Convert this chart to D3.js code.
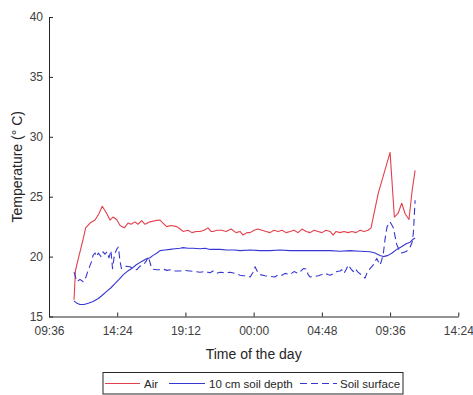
<!DOCTYPE html>
<html>
<head>
<meta charset="utf-8">
<script src="https://cdn.jsdelivr.net/npm/d3@7"></script>
<style>
  html, body { margin: 0; padding: 0; background: #fff; }
  svg { display: block; font-family: "Liberation Sans", Arial, sans-serif; }
</style>
</head>
<body>
<svg id="chart" width="473" height="395"></svg>
<script>
// Time is given in decimal hours from midnight of the first day (values above 24 fall on the next day).
const xTickHours = [9.6, 14.4, 19.2, 24, 28.8, 33.6, 38.4];
const yTicks = [15, 20, 25, 30, 35, 40];

const seriesNames = ["Air", "10 cm soil depth", "Soil surface"];

// Air temperature
const airHours = [11.36, 11.46, 11.57, 11.78, 11.99, 12.18, 12.49, 12.84, 13.12, 13.35, 13.66, 13.89, 14.10, 14.36, 14.60, 14.90, 15.16, 15.37, 15.65, 15.86, 16.12, 16.36, 16.71, 17.06, 17.41, 17.62, 17.88, 18.19, 18.59, 18.82, 19.03, 19.38, 19.66, 19.95, 20.23, 20.51, 20.79, 21.00, 21.14, 21.42, 21.75, 22.06, 22.41, 22.76, 23.04, 23.25, 23.53, 23.75, 24.03, 24.31, 24.59, 24.87, 25.15, 25.43, 25.72, 26.00, 26.28, 26.56, 26.84, 27.12, 27.40, 27.69, 27.97, 28.25, 28.53, 28.81, 29.09, 29.38, 29.59, 29.80, 30.08, 30.36, 30.64, 30.92, 31.20, 31.49, 31.77, 32.05, 32.26, 32.77, 33.60, 33.90, 34.16, 34.42, 34.65, 34.93, 35.15, 35.36];
const airTemps = [16.4, 18.8, 19.4, 20.4, 21.4, 22.4, 22.8, 23.05, 23.6, 24.2, 23.6, 23.05, 23.3, 23.1, 22.6, 22.4, 22.8, 22.7, 22.9, 22.7, 23.0, 22.7, 22.9, 23.0, 23.05, 22.8, 22.5, 22.6, 22.5, 22.3, 22.1, 22.2, 22.0, 22.1, 22.1, 22.2, 22.4, 22.1, 22.1, 22.2, 22.2, 22.1, 22.3, 22.0, 22.1, 21.8, 22.0, 22.0, 22.2, 22.3, 22.2, 22.1, 22.0, 22.2, 22.1, 22.2, 22.0, 22.1, 22.2, 22.0, 22.3, 22.1, 22.0, 22.2, 22.1, 22.0, 22.2, 22.1, 21.8, 22.1, 22.0, 22.1, 22.0, 22.1, 22.0, 22.2, 22.1, 22.2, 22.4, 25.3, 28.7, 23.3, 23.6, 24.45, 23.6, 23.1, 25.5, 27.2];

// Soil temperature at 10 cm depth
const soilDepthHours = [11.36, 11.57, 11.78, 12.06, 12.37, 12.70, 13.07, 13.33, 13.66, 13.96, 14.24, 14.53, 14.83, 15.09, 15.42, 15.72, 16.12, 16.43, 16.71, 16.92, 17.20, 17.41, 17.76, 18.12, 18.47, 18.82, 19.03, 19.38, 19.73, 20.23, 20.58, 20.93, 21.28, 21.63, 22.11, 22.69, 23.04, 23.75, 24.45, 25.15, 25.86, 26.56, 27.26, 27.97, 28.67, 29.38, 30.08, 30.78, 31.49, 32.19, 32.54, 32.89, 33.13, 33.46, 33.74, 34.07, 34.37, 34.77, 35.01, 35.22, 35.36];
const soilDepthTemps = [16.3, 16.1, 16.0, 16.0, 16.1, 16.25, 16.5, 16.75, 17.1, 17.4, 17.75, 18.1, 18.5, 18.75, 19.0, 19.3, 19.6, 19.8, 19.9, 20.1, 20.3, 20.5, 20.55, 20.6, 20.65, 20.7, 20.75, 20.7, 20.7, 20.65, 20.7, 20.6, 20.6, 20.6, 20.55, 20.55, 20.5, 20.55, 20.5, 20.5, 20.55, 20.5, 20.5, 20.5, 20.5, 20.5, 20.45, 20.5, 20.45, 20.4, 20.3, 20.1, 20.0, 20.1, 20.3, 20.6, 20.8, 21.1, 21.2, 21.45, 21.55];

// Soil surface temperature
const soilSurfaceHours = [11.36, 11.46, 11.57, 11.78, 12.01, 12.20, 12.34, 12.60, 12.70, 12.84, 12.96, 13.07, 13.26, 13.40, 13.54, 13.68, 13.82, 13.96, 14.07, 14.21, 14.36, 14.48, 14.60, 14.70, 14.83, 15.02, 15.30, 15.51, 15.77, 16.00, 16.24, 16.43, 16.59, 16.71, 16.83, 16.94, 17.20, 17.41, 17.64, 17.90, 18.12, 18.47, 18.82, 19.17, 19.52, 19.87, 20.23, 20.58, 20.93, 21.14, 21.40, 21.63, 21.99, 22.34, 22.69, 23.04, 23.25, 23.51, 23.75, 23.96, 24.10, 24.24, 24.45, 24.80, 25.15, 25.50, 25.74, 26.00, 26.21, 26.56, 26.84, 27.14, 27.33, 27.50, 27.74, 27.83, 27.97, 28.25, 28.55, 28.81, 29.02, 29.23, 29.38, 29.59, 29.85, 30.08, 30.20, 30.36, 30.50, 30.66, 30.83, 31.01, 31.13, 31.34, 31.56, 31.84, 31.96, 32.19, 32.42, 32.66, 32.89, 33.01, 33.13, 33.25, 33.39, 33.60, 33.83, 34.07, 34.30, 34.44, 34.77, 35.01, 35.15, 35.24, 35.36];
const soilSurfaceTemps = [18.7, 18.3, 17.9, 18.1, 17.9, 18.3, 18.8, 19.6, 20.1, 20.3, 20.0, 20.3, 20.0, 20.4, 20.2, 20.4, 19.9, 20.5, 19.0, 20.2, 20.6, 20.8, 19.6, 19.0, 19.1, 19.2, 19.15, 19.0, 18.9, 19.2, 19.3, 19.6, 20.0, 19.5, 19.0, 18.95, 18.9, 18.9, 18.95, 18.85, 18.9, 18.8, 18.8, 18.85, 18.8, 18.75, 18.7, 18.75, 18.65, 18.8, 18.6, 18.7, 18.65, 18.7, 18.6, 18.45, 18.4, 18.4, 18.3, 18.7, 19.15, 18.8, 18.5, 18.4, 18.35, 18.3, 18.5, 18.45, 18.6, 18.5, 18.75, 18.6, 18.8, 19.0, 18.95, 18.5, 18.3, 18.35, 18.4, 18.5, 18.6, 18.5, 18.45, 18.55, 18.75, 18.8, 18.9, 18.6, 18.9, 19.3, 19.0, 18.75, 19.0, 18.7, 18.5, 18.2, 18.6, 19.0, 19.3, 19.85, 19.3, 19.7, 20.3, 21.5, 22.5, 22.9, 22.4, 21.0, 20.4, 20.3, 20.45, 20.8, 21.2, 22.0, 24.7];

const seriesColors = ["#e2404c", "#3636d2", "#3636d2"];
const seriesDash = [null, null, "7,4"];

const series = [
  { name: seriesNames[0], hours: airHours, temps: airTemps },
  { name: seriesNames[1], hours: soilDepthHours, temps: soilDepthTemps },
  { name: seriesNames[2], hours: soilSurfaceHours, temps: soilSurfaceTemps }
];

const svg = d3.select("#chart");
const plot = { left: 49, right: 458.3, top: 17, bottom: 316.5 };

const x = d3.scaleLinear().domain([9.6, 38.4]).range([plot.left, plot.right]);
const y = d3.scaleLinear().domain([15, 40]).range([plot.bottom, plot.top]);

const fmtClock = h => {
  const mins = Math.round(((h % 24) + 24) % 24 * 60);
  return String(Math.floor(mins / 60)).padStart(2, "0") + ":" + String(mins % 60).padStart(2, "0");
};

const axisColor = "#262626";
const labelColor = "#404040";

// bottom axis, ticks pointing inward
const gx = svg.append("g")
  .attr("transform", `translate(0,${plot.bottom})`)
  .call(d3.axisBottom(x).tickValues(xTickHours).tickFormat(fmtClock)
    .tickSizeInner(-4).tickSizeOuter(0).tickPadding(10));

// left axis, ticks pointing inward
const gy = svg.append("g")
  .attr("transform", `translate(${plot.left},0)`)
  .call(d3.axisLeft(y).tickValues(yTicks).tickFormat(d3.format("d"))
    .tickSizeInner(-4).tickSizeOuter(0).tickPadding(6));

[gx, gy].forEach(g => {
  g.select(".domain").attr("stroke", axisColor).attr("stroke-width", 1);
  g.selectAll(".tick line").attr("stroke", axisColor);
  g.selectAll(".tick text").attr("fill", labelColor)
    .style("font-size", "12px").style("font-family", '"Liberation Sans", Arial, sans-serif');
});

// axis titles
svg.append("text")
  .attr("x", (plot.left + plot.right) / 2).attr("y", 359)
  .attr("text-anchor", "middle").attr("fill", "#262626")
  .style("font-size", "14px")
  .text("Time of the day");

svg.append("text")
  .attr("transform", `translate(22,${(plot.top + plot.bottom) / 2}) rotate(-90)`)
  .attr("text-anchor", "middle").attr("fill", "#262626")
  .style("font-size", "14px")
  .text("Temperature (° C)");

// series lines
const line = d3.line().x(d => x(d[0])).y(d => y(d[1]));
series.forEach((s, i) => {
  const pts = s.hours.map((h, k) => [h, s.temps[k]]);
  svg.append("path")
    .datum(pts)
    .attr("fill", "none")
    .attr("stroke", seriesColors[i])
    .attr("stroke-width", 1.1)
    .attr("stroke-linejoin", "round")
    .attr("stroke-dasharray", seriesDash[i])
    .attr("d", line);
});

// legend
const legend = svg.append("g");
legend.append("rect")
  .attr("x", 103).attr("y", 372.5).attr("width", 300).attr("height", 21.5)
  .attr("fill", "#fff").attr("stroke", "#262626").attr("stroke-width", 1);

const legendItems = [
  { x0: 105, x1: 140, tx: 144 },
  { x0: 169, x1: 205, tx: 209 },
  { x0: 300, x1: 337, tx: 340 }
];
legendItems.forEach((it, i) => {
  legend.append("line")
    .attr("x1", it.x0).attr("x2", it.x1).attr("y1", 383.5).attr("y2", 383.5)
    .attr("stroke", seriesColors[i]).attr("stroke-width", 1.1)
    .attr("stroke-dasharray", seriesDash[i]);
  legend.append("text")
    .attr("x", it.tx).attr("y", 387.7)
    .attr("fill", "#262626").style("font-size", "11.5px")
    .text(seriesNames[i]);
});
</script>
</body>
</html>
